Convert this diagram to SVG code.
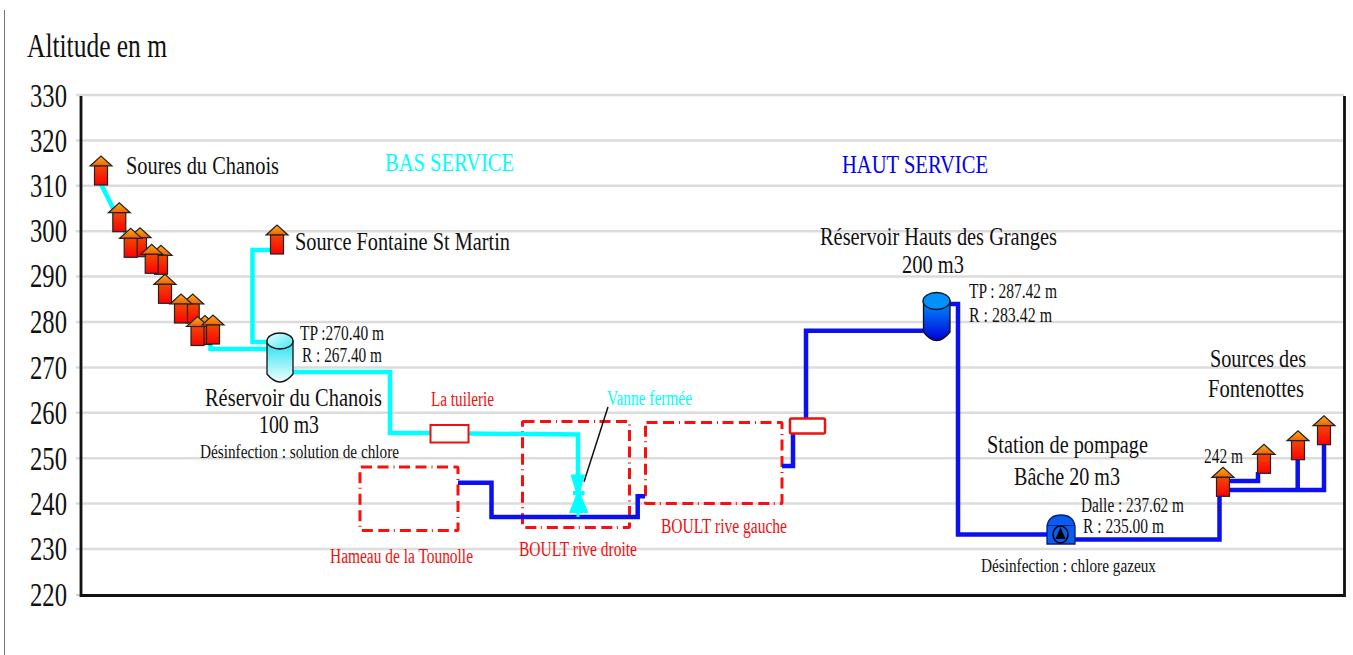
<svg xmlns="http://www.w3.org/2000/svg" width="1353" height="655" viewBox="0 0 1353 655">
<style>
text{font-family:"Liberation Serif","Times New Roman",serif;fill:#111}
.ax{font-size:33px}
.l{font-size:26px}.m{font-size:20px}.s{font-size:18.500px}
.r{fill:#f01010}.c{fill:#00ffff}.b{fill:#0000e8}
.grid{stroke:#dcdcdc;stroke-width:2.500;fill:none}
.axis{stroke:#111;stroke-width:2.800;fill:none}
.pc{stroke:#00ffff;stroke-width:4.500;fill:none}
.pb{stroke:#0a10f0;stroke-width:4.500;fill:none}
.zone{fill:none;stroke:#f81010;stroke-width:3;stroke-dasharray:11 5.500 11 5 1 4.500}
.box{fill:#fff;stroke:#f01010;stroke-width:2}
</style>
<defs>
<linearGradient id="gRoof" x1="0" y1="0" x2="0" y2="1"><stop offset="0" stop-color="#ffb020"/><stop offset="1" stop-color="#f06000"/></linearGradient>
<linearGradient id="gBody" x1="0" y1="0" x2="0" y2="1"><stop offset="0" stop-color="#f04800"/><stop offset="1" stop-color="#ff0000"/></linearGradient>
<linearGradient id="gCy" x1="0" y1="0" x2="1" y2="1"><stop offset="0" stop-color="#e8ffff"/><stop offset="1" stop-color="#40e8f0"/></linearGradient>
<linearGradient id="gCyB" x1="0" y1="0" x2="0" y2="1"><stop offset="0" stop-color="#20e0f0"/><stop offset="1" stop-color="#f0ffff"/></linearGradient>
<linearGradient id="gBl" x1="0" y1="0" x2="0" y2="1"><stop offset="0" stop-color="#0090ff"/><stop offset="1" stop-color="#0000d8"/></linearGradient>
<g id="house">
<polygon points="-11,10 0,0 11,10" fill="url(#gRoof)" stroke="#222" stroke-width="1.200"/>
<rect x="-6.500" y="10" width="13" height="19" fill="url(#gBody)" stroke="#222" stroke-width="1.200"/>
</g>
</defs>
<rect width="1353" height="655" fill="#fff"/>
<path d="M4.500 10V655" stroke="#777" stroke-width="1" fill="none"/>
<g id="axes">
<path class="grid" d="M76 95H1344M76 140.400H1344M76 185.800H1344M76 231.200H1344M76 276.600H1344M76 322H1344M76 367.400H1344M76 412.800H1344M76 458.200H1344M76 503.600H1344M76 549H1344"/>
<path d="M76 595H81" stroke="#999" stroke-width="1" fill="none"/>
<path class="axis" d="M81 96V595.500H1344.500V96"/>
<g>
<text class="ax" x="30" y="107" textLength="37" lengthAdjust="spacingAndGlyphs">330</text>
<text class="ax" x="30" y="152" textLength="37" lengthAdjust="spacingAndGlyphs">320</text>
<text class="ax" x="30" y="197" textLength="37" lengthAdjust="spacingAndGlyphs">310</text>
<text class="ax" x="30" y="242" textLength="37" lengthAdjust="spacingAndGlyphs">300</text>
<text class="ax" x="30" y="287" textLength="37" lengthAdjust="spacingAndGlyphs">290</text>
<text class="ax" x="30" y="333" textLength="37" lengthAdjust="spacingAndGlyphs">280</text>
<text class="ax" x="30" y="378.500" textLength="37" lengthAdjust="spacingAndGlyphs">270</text>
<text class="ax" x="30" y="423.500" textLength="37" lengthAdjust="spacingAndGlyphs">260</text>
<text class="ax" x="30" y="469.500" textLength="37" lengthAdjust="spacingAndGlyphs">250</text>
<text class="ax" x="30" y="514.500" textLength="37" lengthAdjust="spacingAndGlyphs">240</text>
<text class="ax" x="30" y="560" textLength="37" lengthAdjust="spacingAndGlyphs">230</text>
<text class="ax" x="30" y="605.500" textLength="37" lengthAdjust="spacingAndGlyphs">220</text>
</g>
<text x="27" y="56.500" font-size="34" textLength="140" lengthAdjust="spacingAndGlyphs">Altitude en m</text>
</g>
<g id="zones">
<rect class="zone" x="360" y="467" width="98" height="63.500" rx="1"/>
<rect class="zone" x="522.500" y="421.500" width="107" height="106" rx="1"/>
<rect class="zone" x="645.500" y="422.500" width="136.500" height="81" rx="1"/>
</g>
<g id="connectors">
<path class="pc" d="M101 184L124 230L130 240"/>
<path class="pc" d="M210.500 342V349H268"/>
<path class="pc" d="M271 250H252.500V342H268"/>
<path class="pc" d="M293 372H390V433H430"/>
<path class="pc" d="M469 433.500L578 434.500V480"/>
<path class="pb" d="M458 482.700H491.500V517H637.700V496.300H645"/>
<path class="pb" d="M782 466H793V433"/>
<path class="pb" d="M806 418V330.700H923"/>
<path class="pb" d="M950 304H958V534.500H1047"/>
<path class="pb" d="M1074 539.500H1219.500V496"/>
<path class="pb" d="M1229 481H1258V472"/>
<path class="pb" d="M1229 490H1324V444"/>
<path class="pb" d="M1297.700 490V459"/>
<path d="M608 407L584 481.700" stroke="#111" stroke-width="1.500" fill="none"/>
</g>
<g id="source-chanois">
<use href="#house" x="101" y="156"/>
<use href="#house" x="119.300" y="202.700"/>
<use href="#house" x="140" y="227.700"/>
<use href="#house" x="130.700" y="228.300"/>
<use href="#house" x="161" y="245.300"/>
<use href="#house" x="151.700" y="244.300"/>
<use href="#house" x="165" y="274.300"/>
<use href="#house" x="192.700" y="294"/>
<use href="#house" x="181" y="294"/>
<use href="#house" x="205" y="315.500"/>
<use href="#house" x="197.500" y="316.500"/>
<use href="#house" x="213" y="315"/>
<text class="l" x="126" y="174" textLength="153" lengthAdjust="spacingAndGlyphs">Soures du Chanois</text>
</g>
<g id="source-fontaine">
<use href="#house" x="277" y="225"/>
<text class="l" x="295" y="250" textLength="215" lengthAdjust="spacingAndGlyphs">Source Fontaine St Martin</text>
</g>
<g id="reservoir-chanois">
<path d="M267 341V374Q280 390 293 374V341Z" fill="url(#gCyB)" stroke="#111" stroke-width="1.300"/>
<ellipse cx="280" cy="341" rx="13" ry="8" fill="url(#gCy)" stroke="#111" stroke-width="1.300"/>
<text class="m" x="300" y="340" textLength="84" lengthAdjust="spacingAndGlyphs">TP :270.40 m</text>
<text class="m" x="302" y="361.500" textLength="80" lengthAdjust="spacingAndGlyphs">R : 267.40 m</text>
<text class="l" x="205" y="406" textLength="177" lengthAdjust="spacingAndGlyphs">Réservoir du Chanois</text>
<text class="l" x="259" y="433" textLength="60" lengthAdjust="spacingAndGlyphs">100 m3</text>
<text class="s" x="200" y="458" textLength="199" lengthAdjust="spacingAndGlyphs">Désinfection : solution de chlore</text>
</g>
<g id="tuilerie">
<rect class="box" x="430.500" y="425" width="38" height="17.500"/>
<text class="m r" x="431" y="405.500" textLength="63" lengthAdjust="spacingAndGlyphs">La tuilerie</text>
</g>
<g id="vanne">
<path d="M570.500 474.500H585L580.500 491H584.500V495H581L588.500 513H569L576 495H573V491H575.500Z" fill="#00ffff"/>
<path d="M578 512V517" stroke="#00ffff" stroke-width="3" fill="none"/>
<text class="m c" x="607" y="405" textLength="85" lengthAdjust="spacingAndGlyphs">Vanne fermée</text>
</g>
<g id="labels-red">
<text class="m r" x="330" y="562.500" textLength="143" lengthAdjust="spacingAndGlyphs">Hameau de la Tounolle</text>
<text class="m r" x="519" y="556" textLength="118" lengthAdjust="spacingAndGlyphs">BOULT rive droite</text>
<text class="m r" x="661" y="533" textLength="126" lengthAdjust="spacingAndGlyphs">BOULT rive gauche</text>
</g>
<g id="services">
<text class="l c" x="385" y="171" textLength="129" lengthAdjust="spacingAndGlyphs">BAS SERVICE</text>
<text class="l b" x="842" y="173" textLength="146" lengthAdjust="spacingAndGlyphs">HAUT SERVICE</text>
</g>
<g id="box-rive-gauche">
<rect x="790" y="418.500" width="35" height="15" rx="1.500" fill="#fff" stroke="#f01010" stroke-width="2.500"/>
</g>
<g id="reservoir-granges">
<path d="M923.500 301V332Q936.500 349 950 332V301Z" fill="url(#gBl)" stroke="#111" stroke-width="1.300"/>
<ellipse cx="936.500" cy="301" rx="13.500" ry="8.500" fill="#0090ff" stroke="#111" stroke-width="1.300"/>
<text class="l" x="820" y="245" textLength="237" lengthAdjust="spacingAndGlyphs">Réservoir Hauts des Granges</text>
<text class="l" x="902" y="273" textLength="62" lengthAdjust="spacingAndGlyphs">200 m3</text>
<text class="m" x="969" y="297.500" textLength="88" lengthAdjust="spacingAndGlyphs">TP : 287.42 m</text>
<text class="m" x="969" y="322" textLength="83" lengthAdjust="spacingAndGlyphs">R : 283.42 m</text>
</g>
<g id="station-pompage">
<path d="M1047 526Q1049 515 1061 515Q1073 515 1075 526V544H1047Z" fill="#0a5cf0" stroke="#002080" stroke-width="1.300"/>
<path d="M1047 525.500H1075" stroke="#002080" stroke-width="1"/>
<ellipse cx="1060.500" cy="534.500" rx="7.500" ry="8.500" fill="none" stroke="#000" stroke-width="1.500"/>
<path d="M1060.500 527L1065.500 539H1055.500Z" fill="#000"/>
<text class="l" x="987" y="453" textLength="161" lengthAdjust="spacingAndGlyphs">Station de pompage</text>
<text class="l" x="1014" y="485" textLength="106" lengthAdjust="spacingAndGlyphs">Bâche 20 m3</text>
<text class="m" x="1081" y="512" textLength="103" lengthAdjust="spacingAndGlyphs">Dalle : 237.62 m</text>
<text class="m" x="1083" y="533" textLength="81" lengthAdjust="spacingAndGlyphs">R : 235.00 m</text>
<text class="s" x="981" y="571.500" textLength="175" lengthAdjust="spacingAndGlyphs">Désinfection : chlore gazeux</text>
</g>
<g id="sources-fontenottes">
<use href="#house" x="1223" y="467.300"/>
<use href="#house" x="1264" y="444.300"/>
<use href="#house" x="1298" y="430.700"/>
<use href="#house" x="1324" y="415.700"/>
<text class="m" x="1204" y="463" textLength="39" lengthAdjust="spacingAndGlyphs">242 m</text>
<text class="l" x="1210" y="367" textLength="96" lengthAdjust="spacingAndGlyphs">Sources des</text>
<text class="l" x="1208" y="397" textLength="96" lengthAdjust="spacingAndGlyphs">Fontenottes</text>
</g>
</svg>
